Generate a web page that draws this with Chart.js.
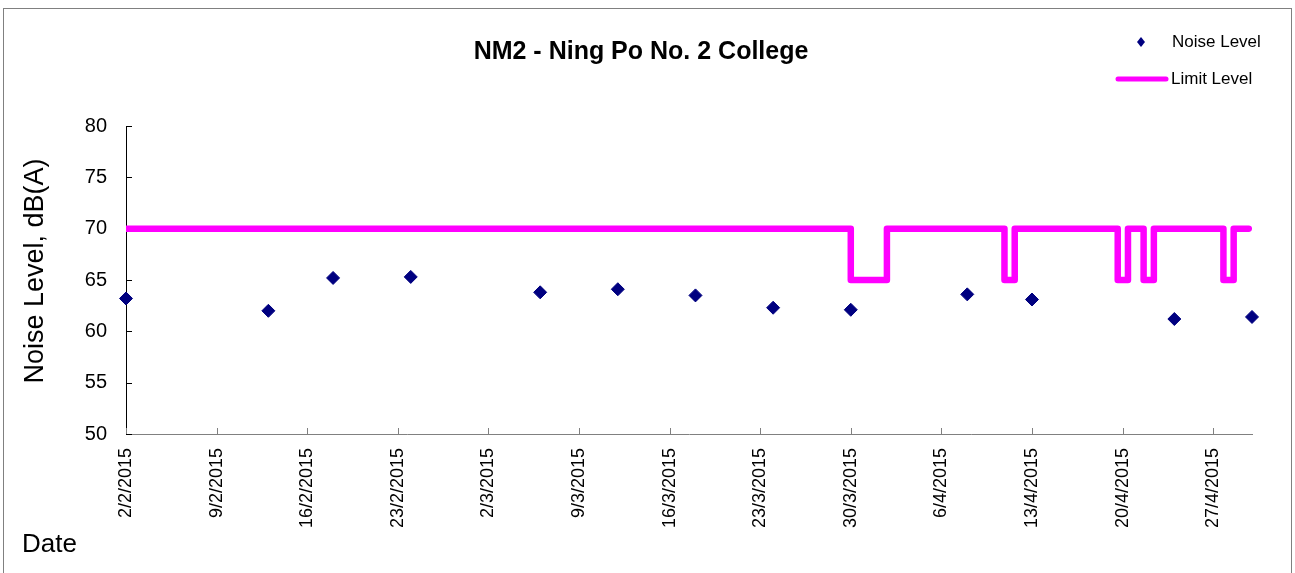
<!DOCTYPE html>
<html>
<head>
<meta charset="utf-8">
<title>NM2 - Ning Po No. 2 College</title>
<script src="https://cdn.jsdelivr.net/npm/chart.js@4.4.1/dist/chart.umd.min.js"></script>
<style>
    html, body { margin: 0; padding: 0; background: #fff; }
    #wrap { width: 1295px; height: 573px; }
</style>
</head>
<body>
<div id="wrap"><canvas id="myChart" width="1295" height="573"></canvas></div>
<script>
// data
const tickLabels = ['2/2/2015', '9/2/2015', '16/2/2015', '23/2/2015', '2/3/2015', '9/3/2015', '16/3/2015',
    '23/3/2015', '30/3/2015', '6/4/2015', '13/4/2015', '20/4/2015', '27/4/2015'];
const yTicks = [50, 55, 60, 65, 70, 75, 80];

const noiseDates = ['2015-02-02', '2015-02-13', '2015-02-18', '2015-02-24', '2015-03-06', '2015-03-12', '2015-03-18',
    '2015-03-24', '2015-03-30', '2015-04-08', '2015-04-13', '2015-04-24', '2015-04-30'];
const noiseValues = [63.2, 62.0, 65.2, 65.3, 63.8, 64.1, 63.5, 62.3, 62.1, 63.6, 63.1, 61.2, 61.4];

// limit level: each value holds until the next time
const limitTimes = ['2015-02-02T00:00', '2015-03-30T00:00', '2015-04-01T19:00', '2015-04-10T21:00', '2015-04-11T16:00',
    '2015-04-19T15:00', '2015-04-20T10:00', '2015-04-21T15:00', '2015-04-22T10:00', '2015-04-27T19:00',
    '2015-04-28T14:00', '2015-04-29T18:00'];
const limitValues = [70, 65, 70, 65, 70, 65, 70, 65, 70, 65, 70, 70];

const axisStart = '2015-02-02';
const axisEnd = '2015-04-30';

const FONT = "'Liberation Sans', Arial, sans-serif";
const t0 = Date.parse(axisStart);
function toDay (s) {
    return (Date.parse(s.length > 10 ? s + 'Z' : s) - t0) / 864e5;
}
function labelToDay (lbl) {
    const p = lbl.split('/');
    return (Date.UTC(+p[2], +p[1] - 1, +p[0]) - t0) / 864e5;
}

const noisePoints = noiseDates.map((d, i) => ({ x: toDay(d), y: noiseValues[i] }));
const limitPoints = limitTimes.map((d, i) => ({ x: toDay(d), y: limitValues[i] }));

// nen trang, khung ngoai, tick ben trong, chu thich, tieu de truc
const decor = {
    id: 'decor',
    beforeDraw (chart) {
        const ctx = chart.ctx;
        ctx.save();
        ctx.fillStyle = '#fff';
        ctx.fillRect(0, 0, chart.width, chart.height);
        ctx.strokeStyle = '#808080';
        ctx.lineWidth = 1;
        ctx.strokeRect(3.5, 8.5, 1288, 570);
        ctx.restore();
    },
    beforeDatasetsDraw (chart) {
        const ctx = chart.ctx;
        const area = chart.chartArea;
        ctx.save();
        ctx.lineWidth = 1;
        ctx.strokeStyle = '#000';
        chart.scales.y.ticks.forEach(t => {
            const y = Math.round(chart.scales.y.getPixelForValue(t.value)) + 0.5;
            ctx.beginPath();
            ctx.moveTo(area.left, y);
            ctx.lineTo(area.left + 6, y);
            ctx.stroke();
        });
        ctx.strokeStyle = '#808080';
        chart.scales.x.ticks.forEach(t => {
            const x = Math.round(chart.scales.x.getPixelForValue(t.value)) + 0.5;
            ctx.beginPath();
            ctx.moveTo(x, area.bottom);
            ctx.lineTo(x, area.bottom - 6);
            ctx.stroke();
        });
        ctx.restore();
    },
    afterDraw (chart) {
        const ctx = chart.ctx;
        const ds = chart.data.datasets;
        ctx.save();
        // Noise Level
        ctx.fillStyle = '#000080';
        ctx.beginPath();
        ctx.moveTo(1141, 37);
        ctx.lineTo(1145, 42);
        ctx.lineTo(1141, 47);
        ctx.lineTo(1137, 42);
        ctx.closePath();
        ctx.fill();
        // Limit Level
        ctx.strokeStyle = '#ff00ff';
        ctx.lineWidth = 5;
        ctx.lineCap = 'round';
        ctx.beginPath();
        ctx.moveTo(1118, 79);
        ctx.lineTo(1166, 79);
        ctx.stroke();

        ctx.fillStyle = '#000';
        ctx.textBaseline = 'middle';
        ctx.font = '17px ' + FONT;
        ctx.fillText(ds[0].label, 1172, 42);
        ctx.fillText(ds[1].label, 1171, 79);
        ctx.font = '26px ' + FONT;
        ctx.fillText('Date', 22, 545);

        // tieu de truc y
        ctx.font = '27px ' + FONT;
        ctx.textAlign = 'center';
        ctx.translate(36, 271);
        ctx.rotate(-Math.PI / 2);
        ctx.fillText('Noise Level, dB(A)', 0, 0);
        ctx.restore();
    }
};

const ctx = document.getElementById('myChart').getContext('2d');
const chart = new Chart(ctx, {
    type: 'scatter',
    data: {
        datasets: [{
            label: 'Noise Level',
            data: noisePoints,
            pointStyle: 'rectRot',
            pointRadius: 6.5,
            pointHoverRadius: 6.5,
            backgroundColor: '#000080',
            borderColor: '#000080',
            borderWidth: 1,
            showLine: false,
            clip: false,
            order: 1
        }, {
            label: 'Limit Level',
            data: limitPoints,
            showLine: true,
            stepped: true,
            borderColor: '#ff00ff',
            backgroundColor: '#ff00ff',
            borderWidth: 6.5,
            borderJoinStyle: 'round',
            borderCapStyle: 'round',
            pointRadius: 0,
            pointHoverRadius: 0,
            order: 2
        }]
    },
    options: {
        responsive: false,
        animation: false,
        events: [],
        layout: { padding: { left: 30, right: 43, top: 0, bottom: 0 } },
        plugins: {
            legend: { display: false },
            tooltip: { enabled: false },
            title: {
                display: true,
                text: 'NM2 - Ning Po No. 2 College',
                color: '#000',
                font: { family: FONT, size: 25, weight: 'bold', lineHeight: 1.2 },
                padding: { top: 37, bottom: 59 }
            }
        },
        scales: {
            x: {
                type: 'linear',
                min: 0,
                max: toDay(axisEnd),
                grid: { display: false },
                border: { display: true, color: '#808080', width: 1 },
                afterBuildTicks: scale => {
                    scale.ticks = tickLabels.map(l => ({ value: labelToDay(l) }));
                },
                afterFit: scale => { scale.height = 139; },
                ticks: {
                    autoSkip: false,
                    maxRotation: 90,
                    minRotation: 90,
                    padding: 6,
                    color: '#000',
                    font: { family: FONT, size: 18 },
                    callback: (v, i) => tickLabels[i]
                }
            },
            y: {
                min: 50,
                max: 80,
                grid: { display: false },
                border: { display: true, color: '#000', width: 1 },
                afterBuildTicks: scale => {
                    scale.ticks = yTicks.map(v => ({ value: v }));
                },
                afterFit: scale => { scale.width = 96; },
                ticks: {
                    padding: 11,
                    color: '#000',
                    font: { family: FONT, size: 20 }
                }
            }
        }
    },
    plugins: [decor]
});
</script>
</body>
</html>
